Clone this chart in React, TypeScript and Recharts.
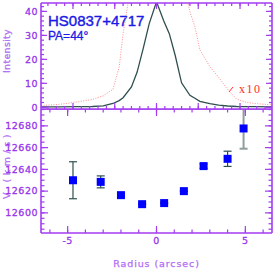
import React from "react";
import {
  ComposedChart,
  Customized,
  ErrorBar,
  Line,
  ReferenceLine,
  Scatter,
  XAxis,
  YAxis,
  ZAxis,
} from "recharts";

// light profile along the slit (arcsec)
const radius = [-6.5, -5.5, -4.5, -3.6, -3.0, -2.45, -2.1, -1.88, -1.41, -1.09, -0.75, -0.41, 0, 0.41, 0.72, 1.05, 1.41, 1.88, 2.16, 2.44, 3.0, 3.5, 4.0, 4.5, 5.0, 5.5, 6.5];
const flux = [0.2, 0.2, 0.25, 0.35, 0.6, 1.6, 2.8, 4.0, 8.5, 14.7, 24.5, 34.9, 44, 36, 30.7, 21.7, 10.2, 5.0, 3.8, 2.5, 1.5, 0.9, 0.55, 0.35, 0.3, 0.25, 0.2];
const fluxX10 = [0.8, 1.2, 2.2, 3.3, 4.8, 7.5, 16.8, 30.7, 52, 140, 245, 349, 440, 360, 307, 217, 55, 40, 33.5, 24, 17, 12.5, 7.5, 3.5, 2.2, 1.6, 1.0];

// velocity points, bottom panel
const slitRadius = [-4.7, -3.14, -2.0, -0.81, 0.43, 1.54, 2.65, 4.0, 4.9];
const velocity = [12630, 12628.5, 12616.3, 12608, 12609, 12620, 12643, 12649.7, 12677.6];
const velErrLow = [17, 5.5, 1.5, 0, 0, 0, 2, 7, 18.6];
const velErrHigh = [17, 5.5, 1.5, 0, 0, 0, 2, 7, 22];

const intensityTicks = [0, 10, 20, 30, 40];
const velocityTicks = [12600, 12620, 12640, 12660, 12680];
const radiusTicks = [-5, 0, 5];
const profileTicks = [-4.7, -2.35, 0, 2.35, 4.7];

const RADIUS_DOMAIN = [-6.5, 6.5];
const INTENSITY_DOMAIN = [-0.7, 43.5];
const VELOCITY_DOMAIN = [12581.5, 12695.5];

const AXIS = "#a33cf0";
const TICK_TEXT = "#9636ec";
const TITLE_TEXT = "#b06cf4";

const profile = radius.map((r, i) => ({ r, flux: flux[i], x10: fluxX10[i] }));
const points = slitRadius.map((r, i) => ({
  r,
  v: velocity[i],
  err: [velErrLow[i], velErrHigh[i]],
}));
const innerPoints = points.slice(0, -1);
const edgePoint = points.slice(-1);

function range(from: number, to: number, step: number) {
  const out: number[] = [];
  for (let v = from; v <= to + 1e-9; v += step) out.push(+v.toFixed(3));
  return out;
}

const radiusMinor = range(-6, 6, 1);
const profileMinor = range(-6.11, 6.11, 0.47);
const intensityMinor = range(0, 42, 2);
const velocityMinor = range(12585, 12695, 5);

const noLabel = () => <g />;

// inward tick marks on one edge of the frame (tiny size so they don't stack)
function edge(
  side: "top" | "bottom" | "left" | "right",
  id: string,
  ticks: number[],
  size: number,
  domain: number[],
  dataKey?: string,
  line = true
) {
  const common = {
    type: "number" as const,
    ticks,
    tickSize: size,
    domain,
    allowDataOverflow: true,
    mirror: true,
    tick: noLabel,
    interval: 0 as const,
    tickLine: { stroke: AXIS, strokeWidth: 1.2 },
    axisLine: line ? { stroke: AXIS, strokeWidth: 1.6 } : false,
    dataKey,
  };
  if (side === "top" || side === "bottom") {
    return <XAxis key={id} {...common} xAxisId={id} orientation={side} height={0.01} />;
  }
  return <YAxis key={id} {...common} yAxisId={id} orientation={side} width={0.01} />;
}

const tickStyle = {
  fill: TICK_TEXT,
  stroke: TICK_TEXT,
  strokeWidth: 0.3,
  fontSize: 9.5,
  fontFamily: "DejaVu Sans",
  style: { letterSpacing: "0.5px" },
};

const sideTitle = (value: string, shift: number, spacing: number) => (props: any) => {
  const vb = props.viewBox;
  const cx = vb.x + 6.5;
  const cy = vb.y + vb.height / 2 - shift;
  return (
    <text
      x={cx}
      y={cy}
      transform={`rotate(-90 ${cx} ${cy})`}
      textAnchor="middle"
      dominantBaseline="central"
      fill={TITLE_TEXT}
      stroke={TITLE_TEXT}
      strokeWidth={0.25}
      fontSize={9.5}
      fontFamily="DejaVu Sans"
      style={{ letterSpacing: `${spacing}px` }}
    >
      {value}
    </text>
  );
};

const bottomTitle = (props: any) => {
  const vb = props.viewBox;
  return (
    <text
      x={vb.x + vb.width / 2}
      y={vb.y + 30}
      textAnchor="middle"
      dominantBaseline="central"
      fill={TITLE_TEXT}
      stroke={TITLE_TEXT}
      strokeWidth={0.25}
      fontSize={9.5}
      fontFamily="DejaVu Sans"
      style={{ letterSpacing: "0.9px" }}
    >
      Radius (arcsec)
    </text>
  );
};

function TopNotes() {
  return (
    <g>
      <text x={48} y={26} fill="#1a1ae6" stroke="#1a1ae6" strokeWidth={0.4} fontSize={15} fontFamily="Liberation Sans">
        HS0837+4717
      </text>
      <text x={48} y={40} fill="#1a1ae6" stroke="#1a1ae6" strokeWidth={0.3} fontSize={12} fontFamily="Liberation Sans">
        PA=44°
      </text>
      <text
        x={239}
        y={92.5}
        fill="#ff2a2a"
        fontSize={12}
        fontFamily="Liberation Serif"
        style={{ letterSpacing: "1.5px" }}
      >
        x10
      </text>
    </g>
  );
}

export default function App() {
  return (
    <div style={{ position: "fixed", left: 0, top: 0, width: 275, height: 275, background: "#fff" }}>
      <div style={{ position: "absolute", left: 0, top: 0 }}>
        <ComposedChart
          width={275}
          height={112}
          data={profile}
          margin={{ top: 3, right: 3, bottom: 3, left: 0 }}
        >
          {edge("bottom", "bx", profileMinor, 3, RADIUS_DOMAIN, "r")}
          {edge("bottom", "bx2", profileTicks, 6, RADIUS_DOMAIN, "r", false)}
          {edge("top", "tx", profileMinor, 3, RADIUS_DOMAIN, "r")}
          {edge("top", "tx2", profileTicks, 6, RADIUS_DOMAIN, "r", false)}
          {edge("left", "ly", intensityMinor, 3, INTENSITY_DOMAIN)}
          {edge("left", "ly2", intensityTicks, 6, INTENSITY_DOMAIN, undefined, false)}
          {edge("right", "ry", intensityMinor, 3, INTENSITY_DOMAIN)}
          {edge("right", "ry2", intensityTicks, 6, INTENSITY_DOMAIN, undefined, false)}
          <YAxis
            yAxisId="lbl"
            type="number"
            width={41}
            domain={INTENSITY_DOMAIN}
            allowDataOverflow
            ticks={intensityTicks}
            interval={0}
            tickSize={0}
            tickMargin={3}
            tickLine={false}
            axisLine={false}
            tick={tickStyle}
            label={sideTitle("Intensity", 5, 0.3)}
          />
          <Line
            xAxisId="bx"
            yAxisId="ly"
            type="linear"
            dataKey="x10"
            stroke="#ff8c8c"
            strokeWidth={1}
            strokeDasharray="1 1.5"
            dot={false}
            isAnimationActive={false}
          />
          <Line
            xAxisId="bx"
            yAxisId="ly"
            type="linear"
            dataKey="flux"
            stroke="#2f4f4f"
            strokeWidth={1.3}
            dot={false}
            isAnimationActive={false}
          />
          <ReferenceLine
            xAxisId="bx"
            yAxisId="ly"
            segment={[
              { x: 4.08, y: 6.4 },
              { x: 4.31, y: 8.5 },
            ]}
            stroke="#ff2a2a"
            strokeWidth={1}
          />
          <Customized component={TopNotes} />
        </ComposedChart>
      </div>
      <div style={{ position: "absolute", left: 0, top: 109 }}>
        <ComposedChart
          width={275}
          height={166}
          data={points}
          margin={{ top: 0, right: 3, bottom: 0, left: 0 }}
        >
          {edge("bottom", "bx", radiusMinor, 3.5, RADIUS_DOMAIN, "r")}
          {edge("bottom", "bx2", radiusTicks, 7, RADIUS_DOMAIN, "r", false)}
          {edge("top", "tx", radiusMinor, 3.5, RADIUS_DOMAIN, "r")}
          {edge("top", "tx2", radiusTicks, 7, RADIUS_DOMAIN, "r", false)}
          {edge("left", "ly", velocityMinor, 3.5, VELOCITY_DOMAIN, "v")}
          {edge("left", "ly2", velocityTicks, 7, VELOCITY_DOMAIN, "v", false)}
          {edge("right", "ry", velocityMinor, 3.5, VELOCITY_DOMAIN, "v")}
          {edge("right", "ry2", velocityTicks, 7, VELOCITY_DOMAIN, "v", false)}
          <YAxis
            yAxisId="lbl"
            type="number"
            dataKey="v"
            width={41}
            domain={VELOCITY_DOMAIN}
            allowDataOverflow
            ticks={velocityTicks}
            interval={0}
            tickSize={0}
            tickMargin={3}
            tickLine={false}
            axisLine={false}
            tick={tickStyle}
            label={sideTitle("V (km/s)", 6, 3.5)}
          />
          <XAxis
            xAxisId="lbl"
            type="number"
            dataKey="r"
            height={42}
            domain={RADIUS_DOMAIN}
            allowDataOverflow
            ticks={radiusTicks}
            interval={0}
            tickSize={0}
            tickMargin={4}
            tickLine={false}
            axisLine={false}
            tick={tickStyle}
            label={bottomTitle}
          />
          <ZAxis range={[30, 30]} />
          <Scatter
            xAxisId="bx"
            yAxisId="ly"
            data={edgePoint}
            fill="#0000ff"
            shape="square"
            isAnimationActive={false}
          >
            <ErrorBar dataKey="err" direction="y" width={4} stroke="#8f9d9d" strokeWidth={2} />
          </Scatter>
          <Scatter
            xAxisId="bx"
            yAxisId="ly"
            data={innerPoints}
            fill="#0000ff"
            shape="square"
            isAnimationActive={false}
          >
            <ErrorBar dataKey="err" direction="y" width={4} stroke="#2f4f4f" strokeWidth={1.2} />
          </Scatter>
        </ComposedChart>
      </div>
    </div>
  );
}
